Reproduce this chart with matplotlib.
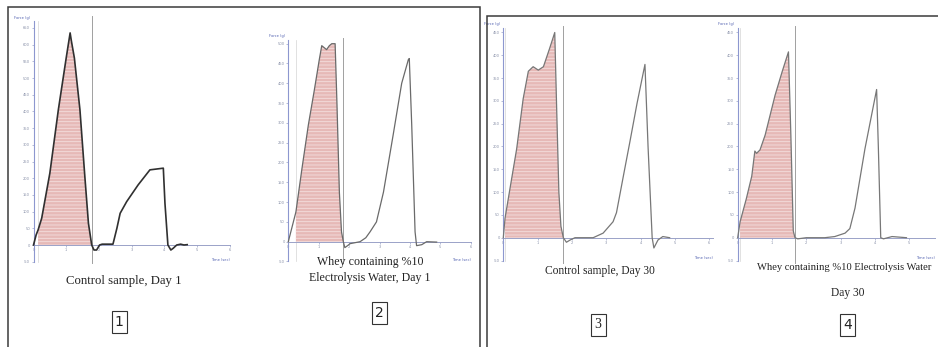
import matplotlib
matplotlib.use('Agg')
import matplotlib.pyplot as plt
import numpy as np
from matplotlib.patches import Rectangle

W, H = 938, 347
plt.rcParams['hatch.linewidth'] = 0.6

# ---------------- data (time units vs force units) ----------------
p1_time = [0, 0.08, 0.14, 0.25, 0.5, 0.76, 1.0, 1.08, 1.12, 1.16, 1.25, 1.42, 1.57, 1.68, 1.78,
           1.85, 1.93, 2.02, 2.1, 2.43, 2.55, 2.65, 2.85, 3.2, 3.56, 3.97, 4.02, 4.11, 4.2, 4.27,
           4.38, 4.5, 4.6, 4.7]
p1_force = [0, 0.6, 0.9, 1.6, 4.3, 8.1, 11.2, 12.2, 12.7, 12.2, 11.2, 8.1, 4.1, 1.3, 0.0,
            -0.3, -0.3, 0.0, 0.05, 0.05, 1.0, 1.9, 2.6, 3.6, 4.5, 4.6, 2.5, 0.0, -0.3, -0.2,
            0.0, 0.05, 0.0, 0.02]

p2_time = [0, 0.1, 0.25, 0.45, 0.66, 0.85, 1.02, 1.10, 1.18, 1.26, 1.35, 1.43, 1.54, 1.60, 1.68,
           1.75, 1.81, 1.86, 1.95, 2.03, 2.36, 2.55, 2.69, 2.9, 3.13, 3.45, 3.73, 3.95, 3.98,
           4.06, 4.17, 4.22, 4.39, 4.55, 4.88]
p2_force = [0, 0.6, 1.5, 3.7, 5.9, 7.6, 9.2, 9.9, 9.8, 9.7, 9.9, 10.0, 10.0, 7.0, 2.5,
            0.5, 0.0, -0.3, -0.2, -0.1, 0.0, 0.2, 0.5, 1.0, 2.5, 5.4, 8.0, 9.2, 9.25,
            5.9, 0.5, -0.2, -0.15, 0.0, -0.02]

p3_time = [0, 0.05, 0.2, 0.39, 0.58, 0.73, 0.87, 1.02, 1.17, 1.35, 1.5, 1.55, 1.62, 1.68, 1.75,
           1.84, 1.95, 2.09, 2.62, 2.91, 3.2, 3.3, 3.5, 3.69, 3.9, 4.13, 4.22, 4.34, 4.39,
           4.51, 4.65, 4.85]
p3_force = [0, 0.85, 2.2, 3.9, 6.1, 7.3, 7.5, 7.35, 7.5, 8.3, 9.0, 6.0, 2.0, 0.5, 0.0,
            -0.2, -0.1, 0.0, 0.0, 0.2, 0.7, 1.1, 2.7, 4.2, 5.9, 7.6, 4.0, 0.0, -0.45,
            -0.1, 0.05, 0.0]

p4_time = [0, 0.07, 0.25, 0.41, 0.5, 0.55, 0.65, 0.8, 1.09, 1.3, 1.48, 1.55, 1.62, 1.67, 1.75,
           2.0, 2.54, 2.83, 3.13, 3.27, 3.42, 3.71, 4.05, 4.1, 4.17, 4.25, 4.5, 4.92]
p4_force = [0, 0.7, 1.7, 2.7, 3.8, 3.7, 3.85, 4.5, 6.25, 7.3, 8.15, 4.5, 0.3, 0.0, -0.05,
            0.0, 0.0, 0.05, 0.2, 0.4, 1.3, 3.9, 6.5, 4.0, 0.0, -0.05, 0.05, 0.0]

captions = ["Control sample, Day 1",
            "Whey containing %10\nElectrolysis Water, Day 1",
            "Control sample, Day 30",
            "Whey containing %10 Electrolysis Water\nDay 30"]
panel_numbers = ["1", "2", "3", "4"]
x_tick_labels = ["0", "1", "2", "3", "4", "5", "6"]

# ---------------- layout (pixel geometry of each small plot) ----------------
geo = [
    dict(ox=33.5, sx=32.7, oy=245.0, sy=16.7, ytop=13.4, xend=6.0, fill=(0.14, 1.78),
         vtop=13.7, color='#303030', lw=1.2),
    dict(ox=288.3, sx=30.4, oy=241.7, sy=19.8, ytop=10.2, xend=6.0, fill=(0.25, 1.81),
         vtop=10.3, color='#6a6a6a', lw=0.9),
    dict(ox=503.3, sx=34.3, oy=237.7, sy=22.8, ytop=9.2, xend=6.1, fill=(0.05, 1.75),
         vtop=9.3, color='#777777', lw=0.9),
    dict(ox=737.7, sx=34.3, oy=237.7, sy=22.8, ytop=9.2, xend=5.75, fill=(0.07, 1.67),
         vtop=9.3, color='#777777', lw=0.9),
]
series = [(p1_time, p1_force), (p2_time, p2_force), (p3_time, p3_force), (p4_time, p4_force)]

fig = plt.figure(figsize=(W / 100, H / 100), dpi=100)
fig.patch.set_facecolor('white')


def fx(x):
    return x / W


def fy(y):
    return 1 - y / H


axis_col = '#8d97cf'
for g, (t, f) in zip(geo, series):
    xlim = (-0.6, g['xend'] + 0.3)
    ylim = (-1.6, g['vtop'] + 0.4)
    left = fx(g['ox'] + g['sx'] * xlim[0])
    width = g['sx'] * (xlim[1] - xlim[0]) / W
    bottom = fy(g['oy'] - g['sy'] * ylim[0])
    height = g['sy'] * (ylim[1] - ylim[0]) / H
    ax = fig.add_axes([left, bottom, width, height])
    ax.set_xlim(*xlim)
    ax.set_ylim(*ylim)
    ax.patch.set_alpha(0)
    for s in ['top', 'right']:
        ax.spines[s].set_visible(False)
    ax.spines['left'].set_position(('data', 0))
    ax.spines['bottom'].set_position(('data', 0))
    ax.spines['left'].set_bounds(-1, g['ytop'])
    ax.spines['bottom'].set_bounds(0, g['xend'])
    ax.spines['left'].set_color(axis_col)
    ax.spines['bottom'].set_color('#9aa2c8')
    ax.spines['left'].set_linewidth(0.8)
    ax.spines['bottom'].set_linewidth(0.7)
    yt = list(range(-1, int(g['ytop']) + 1))
    ax.set_yticks(yt)
    ax.set_yticklabels([str(v * 50) for v in yt])
    n_x = int(g['xend']) + 1
    ax.set_xticks(range(n_x))
    ax.set_xticklabels(x_tick_labels[:n_x])
    ax.tick_params(axis='both', length=1.5, width=0.5, colors='#9aa2c8',
                   labelsize=2.6, labelcolor='#8890a8', pad=1)

    tt = np.array(t)
    ff = np.array(f)
    m = (tt >= g['fill'][0]) & (tt <= g['fill'][1])
    ax.fill_between(tt[m], ff[m], 0, facecolor='#e6b9b7', edgecolor='#f4dfde',
                    hatch='-----', linewidth=0, zorder=1)
    ax.plot(tt, ff, color=g['color'], lw=g['lw'], zorder=3)
    # anchors / markers
    ax.plot([g['fill'][0], g['fill'][0]], [-1, g['ytop']], color='#d4d4d4', lw=0.5, zorder=0)
    ax.plot([g['fill'][1], g['fill'][1]], [-1.1, g['vtop']], color='#a0a0a0', lw=0.7, zorder=2)
    ax.text(-0.1, g['ytop'] + 0.1, "Force (g)", fontsize=2.6, color='#5060b0',
            ha='right', va='bottom')
    ax.text(g['xend'], -0.8, "Time (sec)", fontsize=2.6, color='#5060b0',
            ha='right', va='top')

# ---------------- frames ----------------
fig.add_artist(Rectangle((fx(8), fy(352)), (480 - 8) / W, (352 - 7) / H,
                         transform=fig.transFigure, fill=False, ec='#3a3a3a', lw=1.1))
fig.add_artist(Rectangle((fx(487), fy(352)), (945 - 487) / W, (352 - 16) / H,
                         transform=fig.transFigure, fill=False, ec='#3a3a3a', lw=1.1))

serif = ['Liberation Serif', 'DejaVu Serif']
fig.text(fx(124), fy(281), captions[0], fontsize=9.2, family=serif, ha='center', va='center',
         color='#222222')
fig.text(fx(370), fy(270), captions[1], fontsize=8.6, family=serif, ha='center', va='center',
         color='#222222', linespacing=1.4)
fig.text(fx(600), fy(271), captions[2], fontsize=8.3, family=serif, ha='center', va='center',
         color='#222222')
c4 = captions[3].split('\n')
fig.text(fx(757), fy(267), c4[0], fontsize=7.6, family=serif, ha='left', va='center',
         color='#222222')
fig.text(fx(848), fy(293), c4[1], fontsize=8.3, family=serif, ha='center', va='center',
         color='#222222')

# ---------------- panel number boxes ----------------
for (cx, cy), lab in zip([(119, 322), (379, 313), (598, 325), (847.5, 325)], panel_numbers):
    bw, bh = 15, 22
    fig.add_artist(Rectangle((fx(cx - bw / 2), fy(cy + bh / 2)), bw / W, bh / H,
                             transform=fig.transFigure, fill=False, ec='#333333', lw=0.8))
    fig.text(fx(cx), fy(cy), lab, fontsize=10, ha='center', va='center', color='#222222',
             family=['DejaVu Sans'] if lab != '3' else serif)

fig.savefig('out.png', dpi=100)
